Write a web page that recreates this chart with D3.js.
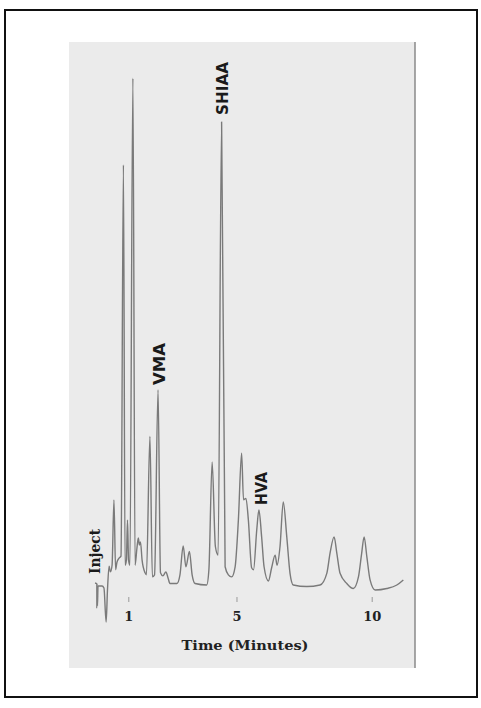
<!DOCTYPE html>
<html>
<head>
<meta charset="utf-8">
<script src="https://cdn.jsdelivr.net/npm/d3@7"></script>
<style>
  body { margin: 0; background: #fff; }
</style>
</head>
<body>
<svg id="chart"></svg>
<script>
// detector trace: time (minutes), signal (% of tallest peak)
const times = [-0.23, -0.16, -0.14, -0.12, 0.03, 0.10, 0.18, 0.23, 0.29, 0.34,
  0.40, 0.47, 0.53, 0.58, 0.66, 0.73, 0.82, 0.88, 0.93, 0.97,
  1.01, 1.06, 1.17, 1.25, 1.32, 1.37, 1.41, 1.45, 1.51, 1.62,
  1.67, 1.80, 1.89, 1.97, 2.10, 2.19, 2.28, 2.39, 2.47, 2.54,
  2.80, 2.91, 3.03, 3.13, 3.26, 3.36, 3.47, 3.90, 3.98, 4.10,
  4.22, 4.32, 4.45, 4.58, 4.70, 4.82, 4.95, 5.07, 5.19, 5.26,
  5.35, 5.44, 5.56, 5.63, 5.75, 5.83, 5.93, 6.02, 6.18, 6.30,
  6.43, 6.50, 6.61, 6.73, 6.86, 6.98, 7.10, 7.60, 8.09, 8.34,
  8.46, 8.61, 8.71, 8.83, 9.08, 9.32, 9.51, 9.63, 9.72, 9.82,
  9.94, 10.13, 10.56, 10.93, 11.17];
const signal = [0.4, 0.2, -4.1, -0.2, -0.2, -0.6, -7.3, -1.0, 3.7, 2.6,
  3.9, 16.8, 3.0, 4.5, 5.3, 5.7, 82.9, 3.9, 4.9, 12.8,
  4.9, 3.9, 100, 3.9, 7.3, 9.3, 7.9, 8.5, 4.9, 2.4,
  2.0, 29.3, 1.6, 2.0, 38.5, 2.4, 1.8, 2.6, 1.4, 0.3,
  0.3, 2.0, 7.7, 3.6, 6.6, 2.0, 0.3, 0, 3.0, 24.3,
  7.6, 5.9, 91.4, 3.6, 2.0, 1.6, 3.6, 12.8, 26.0, 16.8,
  17.1, 12.8, 3.4, 3.0, 10.9, 14.8, 9.5, 3.6, 0.8, 3.4,
  5.9, 3.9, 7.6, 16.4, 9.5, 2.3, 0, -0.3, 0, 2.3,
  6.3, 9.5, 6.3, 2.3, 0.3, -0.7, 1.6, 6.3, 9.5, 5.6,
  1.0, -1.0, -0.7, 0, 1.0];

// peak labels and the time of the peak they mark
const peakNames = ["Inject", "VMA", "SHIAA", "HVA"];
const peakTimes = [-0.16, 2.10, 4.45, 5.83];

const tickValues = [1, 5, 10];
const xTitle = "Time (Minutes)";

const width = 481, height = 708;

const svg = d3.select("#chart")
    .attr("width", width)
    .attr("height", height);

// outer frame
svg.append("rect")
    .attr("x", 5).attr("y", 10)
    .attr("width", 472).attr("height", 687)
    .attr("fill", "#fff")
    .attr("stroke", "#111")
    .attr("stroke-width", 2);

// scanned paper
svg.append("rect")
    .attr("x", 69).attr("y", 42)
    .attr("width", 346).attr("height", 626)
    .attr("fill", "#ebebeb");
svg.append("line")
    .attr("x1", 415).attr("x2", 415)
    .attr("y1", 42).attr("y2", 668)
    .attr("stroke", "#8a8a8a")
    .attr("stroke-width", 1.5);

const x = d3.scaleLinear()
    .domain([1, 10])
    .range([128.3, 371.7]);

const y = d3.scaleLinear()
    .domain([0, 100])
    .range([585, 78.3]);

const trace = times.map((t, i) => ({t, v: signal[i]}));

const line = d3.line()
    .curve(d3.curveMonotoneX)
    .x(d => x(d.t))
    .y(d => y(d.v));

svg.append("path")
    .datum(trace)
    .attr("d", line)
    .attr("fill", "none")
    .attr("stroke", "#7a7a7a")
    .attr("stroke-width", 1.4)
    .attr("stroke-linejoin", "round");

// inject mark under the label
svg.append("line")
    .attr("x1", x(-0.17)).attr("x2", x(-0.17))
    .attr("y1", y(0.2)).attr("y2", y(-4.6))
    .attr("stroke", "#888")
    .attr("stroke-width", 1.2);

// x axis: short ticks, no domain line
const axis = svg.append("g")
    .attr("transform", "translate(0,597)")
    .call(d3.axisBottom(x)
        .tickValues(tickValues)
        .tickSize(5)
        .tickPadding(10)
        .tickFormat(d3.format("d")));
axis.select(".domain").remove();
axis.selectAll(".tick line").attr("stroke", "#999");
axis.selectAll(".tick text")
    .attr("fill", "#222")
    .style("font", "bold 13px 'DejaVu Serif', serif");

svg.append("text")
    .attr("x", 245)
    .attr("y", 650)
    .attr("text-anchor", "middle")
    .attr("fill", "#222")
    .attr("textLength", 127)
    .attr("lengthAdjust", "spacingAndGlyphs")
    .style("font", "bold 13px 'DejaVu Serif', serif")
    .text(xTitle);

// rotated peak labels, sitting just above each peak
const labelLen = {Inject: 45, VMA: 42, SHIAA: 53, HVA: 33};
const labelGap = {Inject: 10, VMA: 5, SHIAA: 7, HVA: 5};
const labelDx = {Inject: -2, VMA: 2, SHIAA: 1, HVA: 3};
const peakValue = t => signal[times.indexOf(t)];

svg.selectAll(".peak-label")
    .data(peakNames.map((name, i) => ({name, t: peakTimes[i]})))
    .join("text")
      .attr("class", "peak-label")
      .attr("transform", d => `translate(${x(d.t) + labelDx[d.name]},${y(Math.max(0, peakValue(d.t))) - labelGap[d.name]}) rotate(-90)`)
      .attr("dominant-baseline", "central")
      .attr("fill", "#1a1a1a")
      .attr("textLength", d => labelLen[d.name])
      .attr("lengthAdjust", "spacingAndGlyphs")
      .style("font", d => d.name === "Inject"
          ? "bold 14px 'DejaVu Serif', serif"
          : "bold 15px 'DejaVu Sans', sans-serif")
      .text(d => d.name);
</script>
</body>
</html>
